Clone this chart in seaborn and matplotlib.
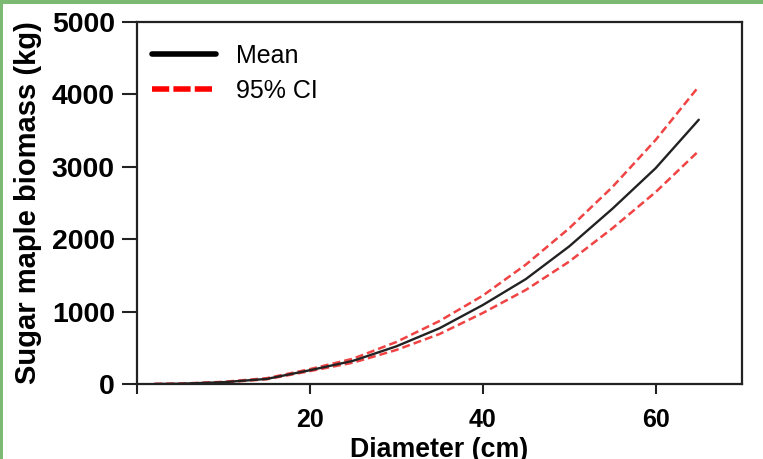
import matplotlib
matplotlib.use("Agg")
import matplotlib.pyplot as plt
from matplotlib.lines import Line2D
from matplotlib.patches import Rectangle
import seaborn as sns
import pandas as pd

# Diameter at breast height (cm) and predicted biomass (kg)
diameter = [2, 5, 10, 15, 20, 25, 30, 35, 40, 45, 50, 55, 60, 65]
mean_biomass = [0, 4, 25, 70, 190, 320, 520, 770, 1090, 1450, 1900, 2420, 2980, 3650]
upper_ci = [0, 5, 30, 80, 205, 350, 580, 870, 1220, 1650, 2150, 2720, 3370, 4110]
lower_ci = [0, 3, 22, 65, 178, 295, 470, 690, 980, 1300, 1690, 2150, 2650, 3220]

y_ticks = [0, 1000, 2000, 3000, 4000, 5000]
x_ticks = [0, 20, 40, 60]
x_tick_labels = ["", "20", "40", "60"]

sns.set_theme(style="white")
plt.rcParams["font.family"] = ["Liberation Sans", "DejaVu Sans"]

df = pd.DataFrame({"diameter": diameter, "mean": mean_biomass,
                   "upper": upper_ci, "lower": lower_ci})

fig = plt.figure(figsize=(7.63, 4.59), dpi=100)
ax = fig.add_axes([137 / 763, 1 - 384 / 459, (742 - 137) / 763, (384 - 22) / 459])

red = "#f04444"
ci_dash = (0, (3.2, 1.6))
sns.lineplot(data=df, x="diameter", y="upper", ax=ax, color=red, lw=1.8,
             linestyle=ci_dash)
sns.lineplot(data=df, x="diameter", y="lower", ax=ax, color=red, lw=1.8,
             linestyle=ci_dash)
sns.lineplot(data=df, x="diameter", y="mean", ax=ax, color="#222222", lw=1.7)

ax.set_xlim(0, 70)
ax.set_ylim(0, 5000)
ax.set_xticks(x_ticks)
ax.set_xticklabels(x_tick_labels)
ax.set_yticks(y_ticks)
ax.tick_params(axis="both", which="both", direction="out", width=1.5,
               color="#222222", bottom=True, left=True, top=False, right=False)
ax.tick_params(axis="x", length=7, labelsize=18, pad=10)
ax.tick_params(axis="y", length=11, labelsize=20.4, pad=5)
for lab in ax.get_xticklabels() + ax.get_yticklabels():
    lab.set_fontweight("bold")
    lab.set_color("black")
for sp in ax.spines.values():
    sp.set_color("#222222")
    sp.set_linewidth(1.6)

ax.set_xlabel("Diameter (cm)", fontsize=19.3, fontweight="bold", labelpad=4,
              color="black")
ax.set_ylabel("Sugar maple biomass (kg)", fontsize=21, fontweight="bold",
              labelpad=7, color="black")

handles = [Line2D([0], [0], color="black", lw=4),
           Line2D([0], [0], color="#ff0000", lw=4, linestyle=(0, (3.1, 0.75)))]
leg = ax.legend(handles, ["Mean", "95% CI"], loc="upper left", frameon=False,
                fontsize=18, handlelength=2.56, handletextpad=0.8,
                bbox_to_anchor=(0.0248, 0.94), borderaxespad=0, borderpad=0,
                labelspacing=0.45)
for t in leg.get_texts():
    t.set_color("black")

# green border strips on the top and left edges
green = "#7cb972"
fig.add_artist(Rectangle((0, 1 - 4 / 459), 1, 4 / 459, transform=fig.transFigure,
                         color=green, lw=0, zorder=10))
fig.add_artist(Rectangle((0, 0), 3 / 763, 1, transform=fig.transFigure,
                         color=green, lw=0, zorder=10))

fig.savefig("out.png", dpi=100)
